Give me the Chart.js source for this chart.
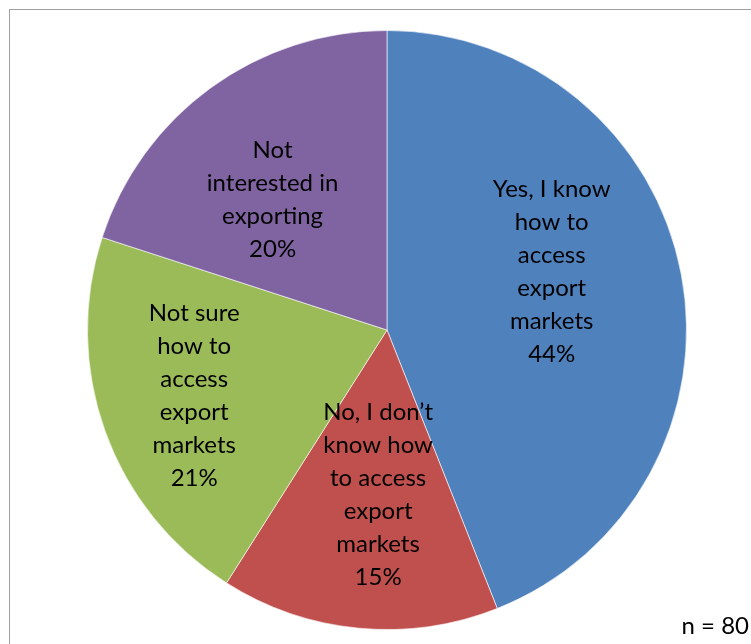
<!DOCTYPE html>
<html>
<head>
<meta charset="utf-8">
<title>Export market access</title>
<script src="https://cdn.jsdelivr.net/npm/chart.js@4.4.1/dist/chart.umd.min.js"></script>
<style>
  html, body { margin: 0; padding: 0; background: #fff; }
  #wrap { width: 751px; height: 644px; }
</style>
</head>
<body>
<div id="wrap"><canvas id="chart" width="751" height="644"></canvas></div>
<script>
// answers to "do you know how to access export markets?"
var categories = [
    "Yes, I know\nhow to\naccess\nexport\nmarkets",
    "No, I don\u2019t\nknow how\nto access\nexport\nmarkets",
    "Not sure\nhow to\naccess\nexport\nmarkets",
    "Not\ninterested in\nexporting"
];
var shares = [44, 15, 21, 20];
var colours = ["#4F81BD", "#C0504D", "#9BBB59", "#8064A2"];
var sampleNote = "n = 80";

var FONT = "Lato, Calibri, sans-serif";

// label anchors: angle shift (deg) from the slice middle and fraction of radius
var labelPlace = [
    { shift: -8.6, frac: 0.583 },
    { shift: -2.3, frac: 0.55 },
    { shift: 1.0, frac: 0.68 },
    { shift: -5.2, frac: 0.58 }
];

var sliceLabels = {
    id: "sliceLabels",
    beforeDraw: function (chart) {
        var ctx = chart.ctx;
        ctx.save();
        ctx.strokeStyle = "#a0a0a0";
        ctx.lineWidth = 1;
        ctx.strokeRect(9.5, 9.5, 800, 700);
        ctx.restore();
    },
    afterDatasetsDraw: function (chart) {
        var ctx = chart.ctx;
        var meta = chart.getDatasetMeta(0);
        ctx.save();
        ctx.fillStyle = "#000";
        ctx.textAlign = "center";
        ctx.textBaseline = "middle";
        ctx.font = "24px " + FONT;
        meta.data.forEach(function (arc, i) {
            var p = arc.getProps(["x", "y", "startAngle", "endAngle", "outerRadius"], true);
            var mid = (p.startAngle + p.endAngle) / 2 + labelPlace[i].shift * Math.PI / 180;
            var r = p.outerRadius * labelPlace[i].frac;
            var cx = p.x + Math.cos(mid) * r;
            var cy = p.y + Math.sin(mid) * r;
            var lines = categories[i].split("\n").concat([shares[i] + "%"]);
            var lh = 33;
            var top = cy - (lines.length - 1) * lh / 2;
            lines.forEach(function (t, k) {
                ctx.fillText(t, cx, top + k * lh);
            });
        });
        ctx.textAlign = "right";
        ctx.textBaseline = "alphabetic";
        ctx.fillText(sampleNote, 749, 634);
        ctx.restore();
    }
};

new Chart(document.getElementById("chart"), {
    type: "pie",
    data: {
        labels: categories,
        datasets: [{
            data: shares,
            backgroundColor: colours,
            borderColor: "rgba(255,255,255,0.6)",
            borderWidth: 1
        }]
    },
    options: {
        responsive: false,
        animation: false,
        rotation: 0,
        layout: { padding: { top: 30, bottom: 14, left: 87, right: 64 } },
        plugins: {
            legend: { display: false },
            tooltip: { enabled: false }
        }
    },
    plugins: [sliceLabels]
});
</script>
</body>
</html>
